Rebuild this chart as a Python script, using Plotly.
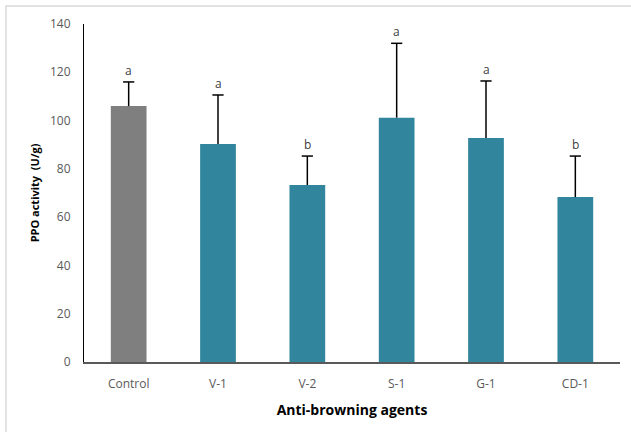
import plotly.graph_objects as go

categories = ["Control", "V-1", "V-2", "S-1", "G-1", "CD-1"]
values = [106.0, 90.3, 73.3, 101.2, 92.8, 68.3]
errors = [10.0, 20.3, 12.0, 30.8, 23.6, 17.0]
letters = ["a", "a", "b", "a", "a", "b"]
colors = ["#7f7f7f", "#31859c", "#31859c", "#31859c", "#31859c", "#31859c"]
y_ticks = [0, 20, 40, 60, 80, 100, 120, 140]

FONT = "Open Sans, Liberation Sans, sans-serif"
tops = [v + e for v, e in zip(values, errors)]

fig = go.Figure()
fig.add_trace(go.Bar(
    x=categories, y=values,
    marker=dict(color=colors, line=dict(width=0)),
    width=0.4, showlegend=False,
))
# whiskers (plus only) without a cap at the bar top
fig.add_trace(go.Scatter(
    x=categories, y=tops, mode="markers",
    marker=dict(symbol="line-ew", size=8, line=dict(color="#000000", width=1.5)),
    error_y=dict(type="data", symmetric=False, array=[0] * len(errors),
                 arrayminus=errors, color="#000000", thickness=1.5, width=0),
    showlegend=False, hoverinfo="skip",
))

for c, t, l in zip(categories, tops, letters):
    fig.add_annotation(x=c, y=t, text=l, showarrow=False,
                       yanchor="bottom", yshift=1,
                       font=dict(family=FONT, size=12, color="#404040"))

fig.update_layout(
    width=631, height=432,
    margin=dict(l=84, r=11, t=24, b=70),
    paper_bgcolor="white", plot_bgcolor="white",
    font=dict(family=FONT, size=12, color="#595959"),
    shapes=[dict(type="rect", xref="paper", yref="paper",
                 x0=-78 / 536, x1=1.2, y0=-1.2, y1=1 + 18 / 338,
                 line=dict(color="#d9d9d9", width=1.5), layer="below")],
)
fig.update_xaxes(
    automargin=False,
    showline=True, linecolor="#595959", linewidth=1.5,
    ticks="", showgrid=False,
    tickfont=dict(family=FONT, size=12, color="#595959"),
    ticklabelstandoff=10,
    title=dict(text="<b>Anti-browning agents</b>",
               font=dict(family=FONT, size=14, color="#000000"), standoff=14),
)
fig.update_yaxes(
    automargin=False,
    range=[0, 140], tickvals=y_ticks, showline=True, linecolor="#000000",
    linewidth=1, ticks="", showgrid=False, zeroline=False,
    tickfont=dict(family=FONT, size=12, color="#595959"),
    ticklabelstandoff=10,
    title=dict(text="<b>PPO activity  (U/g)</b>",
               font=dict(family=FONT, size=11, color="#000000"), standoff=8),
)

fig.write_html("out.html", config={"displayModeBar": False},
               post_script="document.body.style.margin='0';document.body.style.overflow='hidden';")
